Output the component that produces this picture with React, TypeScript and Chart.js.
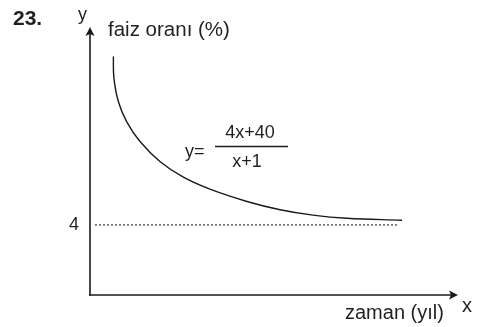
import React, { useEffect, useRef } from "react";
import { Chart, registerables } from "chart.js";

Chart.register(...registerables);

// Curve points (x: time units, y: rate units, 4 = asymptote)
const curveX = [1.27, 1.3, 1.54, 1.99, 2.72, 3.8, 5.05, 6.52, 8.53, 10.33, 12.12, 13.97, 16.96];
const curveY = [13.62, 12.38, 11.05, 9.9, 8.76, 7.62, 6.74, 6.04, 5.34, 4.87, 4.56, 4.38, 4.27];
// Dotted asymptote
const asymptoteX = [0.27, 16.74];
const asymptoteValue = 4;
const yTickLabels = ["4"];
const xMax = 20;
const yMax = 15.3;

const FONT = "'Liberation Sans', Arial, Helvetica, sans-serif";

const overlayPlugin = {
  id: "overlay",
  afterDraw(chart: any) {
    const ctx: CanvasRenderingContext2D = chart.ctx;
    const xs = chart.scales.x;
    const ys = chart.scales.y;
    const x0 = xs.getPixelForValue(0);
    const y0 = ys.getPixelForValue(0);
    const xEnd = xs.getPixelForValue(xMax);
    const yTop = ys.getPixelForValue(yMax);
    ctx.save();
    ctx.strokeStyle = "#1a1a1a";
    ctx.fillStyle = "#1a1a1a";
    ctx.lineWidth = 1.6;
    // y axis
    ctx.beginPath();
    ctx.moveTo(x0, y0 + 0.8);
    ctx.lineTo(x0, yTop + 6);
    ctx.stroke();
    ctx.beginPath();
    ctx.moveTo(x0, yTop);
    ctx.lineTo(x0 - 4.5, yTop + 9);
    ctx.lineTo(x0, yTop + 7);
    ctx.lineTo(x0 + 4.5, yTop + 9);
    ctx.closePath();
    ctx.fill();
    // x axis
    ctx.beginPath();
    ctx.moveTo(x0 - 0.8, y0);
    ctx.lineTo(xEnd - 6, y0);
    ctx.stroke();
    ctx.beginPath();
    ctx.moveTo(xEnd, y0);
    ctx.lineTo(xEnd - 9, y0 - 4.5);
    ctx.lineTo(xEnd - 7, y0);
    ctx.lineTo(xEnd - 9, y0 + 4.5);
    ctx.closePath();
    ctx.fill();

    // texts
    ctx.fillStyle = "#231f20";
    ctx.textBaseline = "alphabetic";
    ctx.textAlign = "left";
    ctx.font = `bold 21px ${FONT}`;
    ctx.fillText("23.", 13, 25);
    ctx.font = `18px ${FONT}`;
    ctx.fillText("y", x0 - 12, 20);
    ctx.font = `20.5px ${FONT}`;
    ctx.fillText("faiz oranı (%)", 108, 36);
    // y tick label
    ctx.textAlign = "right";
    ctx.textBaseline = "middle";
    ctx.font = `18px ${FONT}`;
    ctx.fillText(yTickLabels[0], x0 - 11, ys.getPixelForValue(asymptoteValue));
    // x axis labels
    ctx.textAlign = "left";
    ctx.textBaseline = "alphabetic";
    ctx.font = `20px ${FONT}`;
    ctx.fillText("zaman (yıl)", 345, 319);
    ctx.font = `20px ${FONT}`;
    ctx.fillText("x", 462, 312);
    // formula
    ctx.font = `18px ${FONT}`;
    ctx.fillText("y=", 185, 157);
    ctx.textAlign = "center";
    ctx.fillText("4x+40", 250, 138);
    ctx.fillText("x+1", 247, 167);
    ctx.lineWidth = 1.3;
    ctx.strokeStyle = "#231f20";
    ctx.beginPath();
    ctx.moveTo(215, 146.5);
    ctx.lineTo(288, 146.5);
    ctx.stroke();
    ctx.restore();
  },
};

export default function App() {
  const ref = useRef<HTMLCanvasElement | null>(null);
  useEffect(() => {
    document.body.style.margin = "0";
    const canvas = ref.current;
    if (!canvas) return;
    const chart = new Chart(canvas, {
      type: "line",
      data: {
        datasets: [
          {
            data: curveX.map((x, i) => ({ x, y: curveY[i] })),
            borderColor: "#1a1a1a",
            borderWidth: 1.4,
            pointRadius: 0,
            tension: 0.4,
            fill: false,
          },
          {
            data: asymptoteX.map((x) => ({ x, y: asymptoteValue })),
            borderColor: "#333333",
            borderWidth: 1.2,
            borderDash: [2, 2],
            pointRadius: 0,
            fill: false,
          },
        ],
      },
      options: {
        responsive: false,
        animation: false,
        devicePixelRatio: 1,
        layout: { padding: { left: 90, right: 19, top: 27, bottom: 32 } },
        plugins: { legend: { display: false }, tooltip: { enabled: false } },
        scales: {
          x: { type: "linear", min: 0, max: xMax, display: false },
          y: { type: "linear", min: 0, max: yMax, display: false },
        },
      },
      plugins: [overlayPlugin],
    } as any);
    return () => chart.destroy();
  }, []);
  return (
    <div style={{ width: 477, height: 327, background: "#ffffff" }}>
      <canvas ref={ref} width={477} height={327} style={{ display: "block" }} />
    </div>
  );
}
